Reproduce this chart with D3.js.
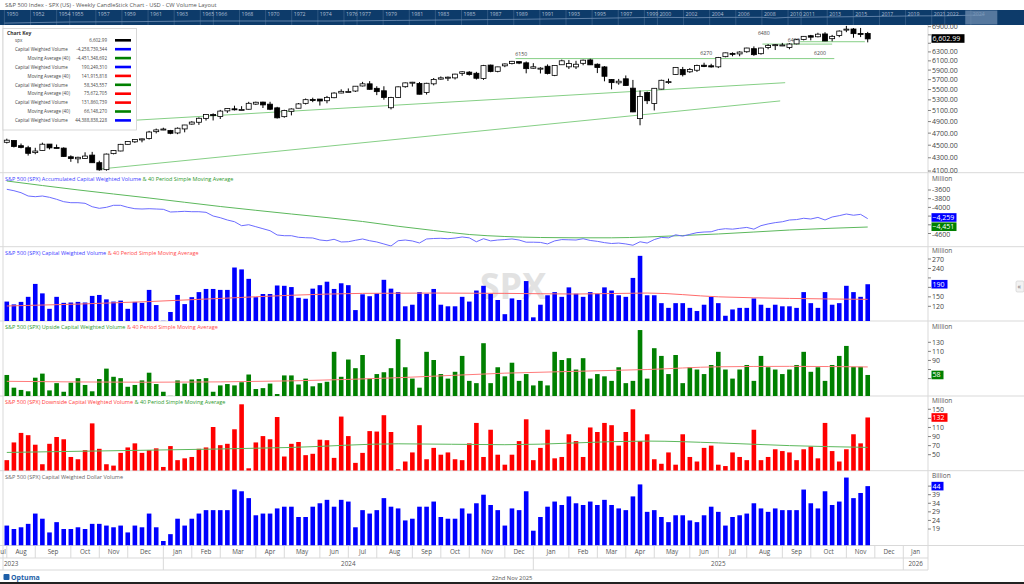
<!DOCTYPE html>
<html><head><meta charset="utf-8">
<script src="https://cdn.jsdelivr.net/npm/d3@7"></script>
<style>
body{margin:0;background:#fff;}
svg{display:block;font-family:"Open Sans","Noto Sans",sans-serif;}
</style></head><body>
<svg id="c" width="1024" height="584"></svg>
<script>
// ---------------- DATA ----------------
const firstWeek = new Date(2023, 6, 28);   // week ending Fri 28 Jul 2023
const axisEnd = new Date(2026, 0, 10);

const open = [4547,4578,4492,4459,4381,4415,4518,4464,4453,4316,4284,4289,4342,4225,4120,4365,4407,4514,4555,4586,4610,4725,4758,
4745,4703,4772,4856,4888,4957,5026,4989,5093,5131,5111,5123,5219,5257,5218,5149,4988,5085,5142,5233,5306,5315,5283,5341,5432,5459,5471,5572,5615,5525,5476,5151,5344,5557,5637,5623,5442,5615,5711,5737,5737,5831,5857,5833,5723,6008,5874,5992,6040,6083,6057,5940,
5920,5983,5789,6015,5970,5969,6046,6121,6026,5968,5705,5635,5718,5528,4953,5441,5232,5509,5656,5808,5911,5864,5897,6005,5993,5970,6193,6267,6255,6304,6374,6260,6400,6445,6457,6401,6485,6588,6679,6654,6722,6608,6686,6820,6843,6735,6735];
const high = [4607,4585,4527,4490,4458,4541,4519,4511,4466,4338,4317,4386,4393,4255,4366,4418,4521,4561,4597,4609,4739,4778,4793,
4755,4798,4842,4907,4975,5030,5048,5111,5140,5189,5180,5262,5265,5264,5263,5168,5114,5139,5239,5325,5341,5315,5375,5447,5505,5523,5570,5655,5670,5566,5566,5358,5564,5643,5655,5651,5636,5734,5767,5765,5823,5879,5878,5863,6012,6018,5973,6044,6099,6086,6086,6050,
5961,6022,5993,6128,6120,6101,6127,6147,6044,5986,5712,5715,5787,5695,5481,5459,5528,5700,5721,5959,5968,5944,6017,6059,6036,6187,6284,6290,6315,6395,6427,6395,6481,6482,6508,6503,6601,6672,6699,6750,6765,6699,6808,6920,6866,6869,6772];
const low = [4528,4463,4449,4335,4356,4415,4432,4449,4313,4238,4216,4283,4223,4104,4104,4354,4402,4511,4537,4547,4593,4696,4751,
4682,4682,4714,4845,4842,4918,4920,4946,5057,5100,5104,5117,5203,5146,5107,4954,4969,5011,5142,5212,5256,5192,5234,5331,5427,5445,5453,5563,5497,5391,5303,5120,5335,5536,5560,5406,5402,5584,5698,5674,5704,5780,5785,5703,5696,5854,5853,5963,6022,6028,5832,5930,
5829,5809,5773,6010,5924,5923,6004,6009,5837,5666,5505,5597,5572,5069,4835,5220,5101,5504,5615,5803,5767,5840,5862,5964,5953,5943,6178,6201,6202,6281,6212,6239,6360,6343,6434,6360,6475,6567,6569,6640,6550,6545,6644,6765,6631,6646,6521];
const close = [4582,4478,4464,4370,4406,4516,4457,4450,4320,4288,4308,4327,4224,4117,4358,4415,4514,4559,4595,4604,4719,4755,4770,
4697,4784,4840,4891,4959,5027,5006,5089,5137,5124,5117,5234,5254,5204,5123,4967,5100,5128,5223,5303,5305,5278,5347,5431,5465,5460,5567,5615,5505,5459,5346,5344,5554,5634,5648,5408,5626,5703,5738,5751,5815,5864,5808,5729,5996,5870,5969,6032,6090,6051,5931,5971,
5942,5827,5997,6101,6041,6026,6115,6013,5955,5770,5639,5668,5581,5074,5363,5283,5525,5687,5660,5958,5803,5912,6000,5977,5968,6173,6279,6260,6297,6389,6238,6389,6450,6467,6460,6482,6584,6664,6644,6716,6553,6664,6792,6840,6729,6734,6603];

// Accumulated capital weighted volume (millions)
const accVol = [-3584,-3616,-3662,-3738,-3754,-3738,-3768,-3814,-3869,-3892,-3892,-3906,-3984,-4021,-3998,-3952,-3952,-3998,-4030,-4037,-4030,-4037,-4044,-4106,-4099,-4090,-4099,-4099,-4113,-4198,-4237,-4290,-4329,-4421,-4398,-4444,-4490,-4536,-4634,-4651,-4651,-4687,-4697,-4703,-4749,-4766,-4733,-4795,-4789,-4756,-4726,-4766,-4795,-4841,-4887,-4766,
-4750,-4772,-4818,-4726,-4715,-4710,-4720,-4705,-4680,-4700,
-4790,-4720,-4770,-4750,-4740,-4725,-4750,-4800,-4800,-4805,
-4840,-4770,-4740,-4745,-4750,-4720,-4760,-4780,-4810,-4830,
-4820,-4840,-4870,-4790,-4820,-4740,-4690,-4700,-4630,-4660,
-4620,-4580,-4566,-4560,-4510,-4490,-4500,-4480,-4460,-4500,
-4420,-4380,-4350,-4330,-4290,-4280,-4250,-4267,-4230,-4290,
-4221,-4190,-4152,-4180,-4160,-4259];
const accMaIdx = [0,10,20,30,40,50,55,60,65,70,75,80,85,90,95,100,105,110,115,121];
const accMa = [-3393,-3598,-3784,-3979,-4152,-4324,-4434,-4531,-4623,-4669,-4692,-4699,-4699,-4680,-4646,-4611,-4566,-4520,-4485,-4451];

// Capital weighted volume (millions)
const cwVol = [135,126,134,150,191,161,112,150,131,132,134,132,153,156,142,135,138,112,134,131,172,124,74,102,156,127,149,165,175,175,172,172,243,237,207,149,159,159,186,185,181,147,144,176,187,198,175,193,187,108,158,152,161,204,176,165,
120,125,165,160,175,125,120,120,150,135,170,185,160,140,95,145,140,200,85,125,155,165,150,180,160,150,
165,160,180,170,155,150,210,280,155,155,130,115,130,130,115,105,125,150,130,90,110,115,115,145,125,115,125,120,120,115,165,130,115,165,125,130,185,165,150,190];
const cwMaIdx = [0,10,20,30,40,50,60,70,80,90,100,110,121];
const cwMa = [121,127,135,145,155,161,162,161,159,162,150,145,142];

// Upside capital weighted volume (millions)
const upVol = [58,30,25,22,52,61,24,40,21,41,51,36,22,49,72,54,51,32,36,46,63,38,21,12,46,39,48,49,51,21,35,38,35,42,59,27,29,39,16,57,57,37,50,33,40,43,109,54,92,73,102,50,60,64,73,137,
75,50,30,109,91,60,50,65,100,45,40,128,40,75,55,85,45,60,35,45,35,109,91,95,70,95,
50,60,55,45,75,40,45,157,50,117,100,60,102,40,75,70,60,80,109,70,50,70,80,45,100,75,70,60,70,80,109,65,75,45,80,100,122,76,76,58];
const upMaIdx = [0,20,40,55,70,90,100,110,121];
const upMa = [44,42,45,52,62,70,76,77,75.7];

// Downside capital weighted volume (millions)
const downVol = [38,77,98,93,72,29,74,89,84,45,40,60,119,63,29,26,54,66,75,54,60,64,23,69,38,42,45,63,66,111,71,74,106,161,20,77,91,84,133,46,74,78,49,52,83,82,43,134,91,32,54,102,101,137,100,18,
35,55,115,40,65,50,55,40,38,75,120,45,105,50,28,50,80,128,38,65,105,42,45,95,80,45,
110,100,120,115,70,100,150,80,95,40,30,55,28,95,45,35,65,70,28,25,55,45,38,105,38,45,62,58,55,38,62,68,42,120,58,35,62,95,75,132];
const downMaIdx = [0,20,40,55,70,90,100,110,121];
const downMa = [55,60,66,74,72,80,76,70,66.1];

// Capital weighted dollar volume (billions)
const dollarVol = [21,19,20,22,28,25,17,23,19,19,20,19,22,22,21,20,21,17,21,20,28,20,12,16,25,21,25,28,30,30,30,30,42,41,37,27,28,28,31,32,32,26,26,32,34,36,32,36,35,20,30,28,30,37,32,31,
24,25,32,32,35,26,25,25,31,28,34,39,33,30,21,31,30,41,18,26,32,35,33,38,34,33,
35,33,36,33,31,30,38,45,29,30,26,23,27,27,24,23,27,32,29,21,26,27,28,34,31,29,31,30,30,30,42,34,31,41,33,35,49,37,40,44];

// Drawn trend lines (bar index, price)
const trendIdx = [[-1, 109.4], [13.1, 108.7]];
const trendPrice = [[4788, 5638], [4129, 5279]];
const levelIdx = [[71.5, 116.3], [106.2, 116.0], [111.5, 120.6]];
const levelPrice = [6150, 6480, 6536];
const levelLabels = ["6150", "6270", "6200", "6480", "6400"];
const levelLabelIdx = [72.3, 98.3, 114.3, 106.4, 110.6];
const levelLabelPrice = [6215, 6240, 6240, 6700, 6540];

// Axis ticks
const priceTicks = [4100,4300,4500,4700,4900,5100,5300,5500,5700,5900,6100,6300,6500,6700,6900];
const accTicks = [-3600,-3800,-4000,-4200,-4400,-4600];
const cwTicks = [120,150,180,210,240,270];
const upTicks = [50,70,90,110,130];
const downTicks = [50,70,90,110,130,150];
const dollarTicks = [19,24,29,34,39,44];

// Chart key
const keyNames = ["spx","Capital Weighted Volume","Moving Average (40)","Capital Weighted Volume","Moving Average (40)","Capital Weighted Volume","Moving Average (40)","Capital Weighted Volume","Moving Average (40)","Capital Weighted Volume"];
const keyValues = ["6,602.99","-4,258,739,344","-4,451,348,692","190,249,310","141,915,818","58,343,557","75,672,705","131,860,739","66,148,270","44,388,838,228"];
const keyColors = ["#000","#0000ff","#008000","#0000ff","#ff0000","#008000","#ff0000","#ff0000","#008000","#0000ff"];

// Navigator (history)
const navYears = [1950,1952,1954,1955,1957,1959,1961,1963,1965,1966,1968,1970,1972,1974,1976,1977,1979,1981,1983,1985,1987,1989,1991,1993,1995,1997,1999,2000,2002,2004,2006,2008,2010,2011,2013,2015,2017,2019,2021,2022,2024];
const navHistYears = [1950,1955,1960,1965,1970,1975,1980,1985,1990,1995,2000,2003,2005,2008,2009,2010,2015,2020,2022,2024,2025];
const navHistClose = [20,45,58,92,92,90,136,211,330,616,1320,1000,1248,1300,800,1258,2044,3756,3840,5881,6600];

// ---------------- DRAW ----------------
const svg = d3.select("#c");
const W = 1024, AX = 928;
const nBars = close.length;
const weeks = d3.timeFriday.range(d3.timeDay.offset(firstWeek, -1), axisEnd);
const x = d3.scaleLinear().domain([0, 1]).range([6.8, 6.8 + 7.115]);

const P = {
  price: {top: 25, bot: 172.7},
  acc: {top: 172.7, bot: 246.7},
  cw: {top: 246.7, bot: 321},
  up: {top: 321, bot: 396},
  down: {top: 396, bot: 470.7},
  dol: {top: 470.7, bot: 545.5}
};
const yPrice = d3.scaleLog().domain([4100, 6900]).range([171, 26.7]);
const yAcc = d3.scaleLinear().domain([-3600, -4600]).range([190, 233.5]);
const yCw = d3.scaleLinear().domain([120, 270]).range([306.3, 259]);
const yUp = d3.scaleLinear().domain([50, 130]).range([378.6, 342.3]);
const yDown = d3.scaleLinear().domain([50, 150]).range([454.7, 409.3]);
const yDol = d3.scaleLinear().domain([19, 39]).range([529, 494.7]);

const defs = svg.append("defs");
Object.entries(P).forEach(([k, p]) => {
  defs.append("clipPath").attr("id", "clip-" + k).append("rect")
    .attr("x", 3).attr("y", p.top).attr("width", AX - 3).attr("height", p.bot - p.top);
});

// title
svg.append("text").attr("x", 5).attr("y", 6.5).attr("font-size", 5.8).attr("fill", "#555")
  .text("S&P 500 Index - SPX (US) - Weekly CandleStick Chart - USD - CW Volume Layout");

// navigator
const nav = svg.append("g");
nav.append("rect").attr("x", 0).attr("y", 10).attr("width", W).attr("height", 15).attr("fill", "#0d3b6a");
const xNav = d3.scaleTime().domain([new Date(1950, 0, 1), new Date(2026, 0, 1)]).range([4.4, 997]);
nav.selectAll("line.ny").data(navYears).join("line")
  .attr("x1", d => xNav(new Date(d, 0, 1))).attr("x2", d => xNav(new Date(d, 0, 1)))
  .attr("y1", 10).attr("y2", 25).attr("stroke", "#4a6d93").attr("stroke-width", 0.6);
nav.selectAll("text.ny").data(navYears).join("text")
  .attr("x", d => xNav(new Date(d, 0, 1)) + 2).attr("y", 16.3)
  .attr("font-size", 5.2).attr("fill", "#aebfd3").text(d => d);
const yNav = d3.scaleLog().domain([15, 7000]).range([23.5, 15]);
nav.append("path").datum(navHistYears.map((yr, i) => [yr, navHistClose[i]]))
  .attr("fill", "none").attr("stroke", "#7f9cc0").attr("stroke-width", 0.7)
  .attr("d", d3.line().x(d => xNav(new Date(d[0], 0, 1))).y(d => yNav(d[1])));
nav.append("rect").attr("x", xNav(firstWeek)).attr("y", 10.5)
  .attr("width", xNav(axisEnd) - xNav(firstWeek)).attr("height", 14)
  .attr("fill", "#6f8db0").attr("opacity", 0.75);

// panel frame lines
const frame = svg.append("g").attr("stroke", "#d9d9d9").attr("stroke-width", 1);
[P.acc.top, P.cw.top, P.up.top, P.down.top, P.dol.top].forEach(yv => {
  frame.append("line").attr("x1", 0).attr("x2", W).attr("y1", yv).attr("y2", yv);
});
frame.append("line").attr("x1", 0).attr("x2", W).attr("y1", 545.5).attr("y2", 545.5);
frame.append("line").attr("x1", 3).attr("x2", 3).attr("y1", 25).attr("y2", 570);
frame.append("line").attr("x1", AX).attr("x2", AX).attr("y1", 25).attr("y2", 570);

// ---- price panel
const gP = svg.append("g").attr("clip-path", "url(#clip-price)");
trendIdx.forEach((ti, k) => {
  gP.append("line").attr("x1", x(ti[0])).attr("x2", x(ti[1]))
    .attr("y1", yPrice(trendPrice[k][0])).attr("y2", yPrice(trendPrice[k][1]))
    .attr("stroke", "#86cf86").attr("stroke-width", 1);
});
levelIdx.forEach((li, k) => {
  gP.append("line").attr("x1", x(li[0])).attr("x2", x(li[1]))
    .attr("y1", yPrice(levelPrice[k])).attr("y2", yPrice(levelPrice[k]))
    .attr("stroke", "#86cf86").attr("stroke-width", 1);
});
levelLabels.forEach((t, k) => {
  gP.append("text").attr("x", x(levelLabelIdx[k])).attr("y", yPrice(levelLabelPrice[k]))
    .attr("font-size", 5.2).attr("fill", "#444").attr("text-anchor", "middle").text(t);
});
const idx = d3.range(nBars);
gP.selectAll("line.wick").data(idx).join("line")
  .attr("x1", i => x(i)).attr("x2", i => x(i))
  .attr("y1", i => yPrice(high[i])).attr("y2", i => yPrice(low[i]))
  .attr("stroke", "#000").attr("stroke-width", 1);
gP.selectAll("rect.body").data(idx).join("rect")
  .attr("x", i => x(i) - 2.5).attr("width", 5)
  .attr("y", i => yPrice(Math.max(open[i], close[i])))
  .attr("height", i => Math.max(1, Math.abs(yPrice(open[i]) - yPrice(close[i]))))
  .attr("fill", i => close[i] >= open[i] ? "#fff" : "#000")
  .attr("stroke", "#000").attr("stroke-width", 0.8);

// ---- generic bar panel helper
function barPanel(key, data, y, color) {
  const g = svg.append("g").attr("clip-path", `url(#clip-${key})`);
  g.selectAll("rect").data(idx).join("rect")
    .attr("x", i => x(i) - 2.3).attr("width", 4.6)
    .attr("y", i => y(data[i])).attr("height", i => Math.max(0, P[key].bot - y(data[i])))
    .attr("fill", color);
  return g;
}
function maLine(g, ids, vals, y, color) {
  g.append("path").datum(ids.map((i, k) => [i, vals[k]]))
    .attr("fill", "none").attr("stroke", color).attr("stroke-width", 1)
    .attr("d", d3.line().x(d => x(d[0])).y(d => y(d[1])).curve(d3.curveMonotoneX));
}

// ---- panel 2 accumulated
const gA = svg.append("g").attr("clip-path", "url(#clip-acc)");
maLine(gA, accMaIdx, accMa, yAcc, "#5cb85c");
gA.append("path").datum(idx).attr("fill", "none").attr("stroke", "#6b6bff").attr("stroke-width", 1)
  .attr("d", d3.line().x(i => x(i)).y(i => yAcc(accVol[i])));

// ---- panel 3 CW volume (watermark first)
svg.append("text").attr("x", 513).attr("y", 299).attr("text-anchor", "middle")
  .attr("font-size", 36).attr("font-weight", "bold").attr("fill", "#e2e2e2").text("SPX");
const g3 = barPanel("cw", cwVol, yCw, "#0000ff");
maLine(g3, cwMaIdx, cwMa, yCw, "#ff6b6b");
const g4 = barPanel("up", upVol, yUp, "#008000");
maLine(g4, upMaIdx, upMa, yUp, "#ff7b7b");
const g5 = barPanel("down", downVol, yDown, "#ff0000");
maLine(g5, downMaIdx, downMa, yDown, "#5cb85c");
barPanel("dol", dollarVol, yDol, "#0000ff");

// panel titles
function title(yv, parts) {
  const t = svg.append("text").attr("x", 5).attr("y", yv).attr("font-size", 5.5);
  parts.forEach(p => t.append("tspan").attr("fill", p[1]).text(p[0]));
}
title(180.5, [["S&P 500 (SPX)  Accumulated Capital Weighted Volume ", "#3b3bff"], ["& 40 Period Simple Moving Average", "#2e9a2e"]]);
title(254.8, [["S&P 500 (SPX)  Capital Weighted Volume ", "#3b3bff"], ["& 40 Period Simple Moving Average", "#ff4d4d"]]);
title(329, [["S&P 500 (SPX)  Upside Capital Weighted Volume ", "#2e9a2e"], ["& 40 Period Simple Moving Average", "#ff4d4d"]]);
title(403.5, [["S&P 500 (SPX)  Downside Capital Weighted Volume ", "#ff3b3b"], ["& 40 Period Simple Moving Average", "#2e9a2e"]]);
title(478.5, [["S&P 500 (SPX)  Capital Weighted Dollar Volume", "#666"]]);

// ---- right axes (value boxes computed first so covered ticks are skipped)
const boxes = [
  {y: yPrice(close[nBars - 1]) - 0.4, t: d3.format(",.2f")(6602.99), c: "#000", w: 33},
  {y: yAcc(accVol[nBars - 1]) - 1.2, t: d3.format(",")(accVol[nBars - 1]), c: "#0000ff", w: 25},
  {y: yAcc(accMa[accMa.length - 1]) - 0.3, t: d3.format(",")(Math.round(accMa[accMa.length - 1])), c: "#008000", w: 25},
  {y: yCw(cwVol[nBars - 1]), t: String(cwVol[nBars - 1]), c: "#0000ff", w: 16},
  {y: yUp(upVol[nBars - 1]), t: String(upVol[nBars - 1]), c: "#008000", w: 12},
  {y: yDown(downVol[nBars - 1]), t: String(downVol[nBars - 1]), c: "#ff0000", w: 16},
  {y: yDol(dollarVol[nBars - 1]), t: String(dollarVol[nBars - 1]), c: "#0000ff", w: 12}
];
const ax = svg.append("g").attr("font-size", 7).attr("fill", "#444");
function ticks(list, y, fmt) {
  list.forEach(v => {
    const yy = y(v);
    ax.append("line").attr("x1", AX).attr("x2", AX + 3).attr("y1", yy).attr("y2", yy).attr("stroke", "#666").attr("stroke-width", 0.8);
    const near = boxes.filter(b => Math.abs(b.y - yy) < 8);
    if (near.some(b => Math.abs(b.y - yy) < 6.5)) return;
    const shift = near.length ? (yy > near[0].y ? 1.3 : -1.3) : 0;
    ax.append("text").attr("x", AX + 4).attr("y", yy + 2.4 + shift).text(fmt(v));
  });
}
ticks(priceTicks, yPrice, v => d3.format(".2f")(v));
ticks(accTicks, yAcc, v => String(v));
ticks(cwTicks.filter(v => v < 270), yCw, v => String(v));
ticks(upTicks, yUp, v => String(v));
ticks(downTicks, yDown, v => String(v));
ticks(dollarTicks, yDol, v => String(v));
ax.append("line").attr("x1", AX).attr("x2", AX + 3).attr("y1", yCw(270)).attr("y2", yCw(270)).attr("stroke", "#666").attr("stroke-width", 0.8);
ax.append("text").attr("x", AX + 4).attr("y", yCw(270) + 3).text("270");
[[181, "Million"], [253, "Million"], [328.5, "Million"], [403, "Million"], [478, "Billion"]].forEach(d => {
  ax.append("text").attr("x", AX + 4).attr("y", d[0]).attr("font-size", 6.5).attr("fill", "#555").text(d[1]);
});
boxes.forEach(b => {
  svg.append("rect").attr("x", AX + 3.5).attr("y", b.y - 4.3).attr("width", b.w).attr("height", 8.6).attr("fill", b.c);
  svg.append("text").attr("x", AX + 4.5).attr("y", b.y + 2.5).attr("font-size", 7).attr("fill", "#fff").text(b.t);
});

// ---- chart key
const key = svg.append("g");
key.append("rect").attr("x", 3).attr("y", 28.5).attr("width", 133.5).attr("height", 101.5)
  .attr("fill", "#fff").attr("stroke", "#cfcfcf").attr("stroke-width", 0.8);
key.append("text").attr("x", 7).attr("y", 35).attr("font-size", 5).attr("font-weight", "bold").attr("fill", "#333").text("Chart Key");
keyNames.forEach((n, k) => {
  const yy = 42 + k * 8.9;
  const isMa = n.startsWith("Moving");
  key.append("text").attr("x", isMa ? 70 : 15).attr("y", yy).attr("text-anchor", isMa ? "end" : "start")
    .attr("font-size", 4.5).attr("fill", "#444").text(n);
  key.append("text").attr("x", 107).attr("y", yy).attr("text-anchor", "end")
    .attr("font-size", 4.5).attr("fill", "#444").text(keyValues[k]);
  key.append("rect").attr("x", 115).attr("y", yy - 3).attr("width", 16).attr("height", 2.6).attr("fill", keyColors[k]);
});

// ---- bottom time axis
const bax = svg.append("g");
bax.append("line").attr("x1", 0).attr("x2", AX).attr("y1", 558).attr("y2", 558).attr("stroke", "#d9d9d9");
bax.append("line").attr("x1", 0).attr("x2", AX).attr("y1", 570).attr("y2", 570).attr("stroke", "#d9d9d9");
const monthSeps = [], yearSeps = [];
weeks.forEach((d, k) => {
  if (k > 0 && d.getMonth() !== weeks[k - 1].getMonth()) {
    monthSeps.push({x: x(k - 1), d: d});
    if (d.getFullYear() !== weeks[k - 1].getFullYear()) yearSeps.push({x: x(k - 1), d: d});
  }
});
monthSeps.forEach((m, k) => {
  bax.append("line").attr("x1", m.x).attr("x2", m.x).attr("y1", 545.5).attr("y2", 558).attr("stroke", "#d9d9d9");
  const next = k + 1 < monthSeps.length ? monthSeps[k + 1].x : AX;
  bax.append("text").attr("x", (m.x + next) / 2).attr("y", 554).attr("text-anchor", "middle")
    .attr("font-size", 6.3).attr("fill", "#555").text(d3.timeFormat("%b")(m.d));
});
bax.append("text").attr("x", monthSeps[0].x - 1).attr("y", 554).attr("text-anchor", "end")
  .attr("font-size", 6.3).attr("fill", "#555").text(d3.timeFormat("%b")(weeks[0]).slice(1));
yearSeps.forEach((m, k) => {
  bax.append("line").attr("x1", m.x).attr("x2", m.x).attr("y1", 558).attr("y2", 570).attr("stroke", "#d9d9d9");
  const next = k + 1 < yearSeps.length ? yearSeps[k + 1].x : AX;
  bax.append("text").attr("x", (m.x + next) / 2).attr("y", 566).attr("text-anchor", "middle")
    .attr("font-size", 6.3).attr("fill", "#555").text(m.d.getFullYear());
});
bax.append("text").attr("x", 4).attr("y", 566).attr("font-size", 6.3).attr("fill", "#555").text(weeks[0].getFullYear());

// footer
const ft = svg.append("g");
ft.append("rect").attr("x", 3.5).attr("y", 574).attr("width", 6).attr("height", 6).attr("rx", 1).attr("fill", "#1d5fa8");
ft.append("text").attr("x", 11).attr("y", 580).attr("font-size", 7).attr("font-weight", "bold").attr("fill", "#1d5fa8").text("Optuma");
ft.append("text").attr("x", 512).attr("y", 579.5).attr("text-anchor", "middle").attr("font-size", 5.8).attr("fill", "#555").text("22nd Nov 2025");
ft.append("rect").attr("x", 0).attr("y", 582).attr("width", W).attr("height", 2).attr("fill", "#222");
// side tab
svg.append("rect").attr("x", 1016).attr("y", 281).attr("width", 8).attr("height", 11).attr("rx", 1.5).attr("fill", "#f2f2f2").attr("stroke", "#ccc").attr("stroke-width", 0.6);
svg.append("text").attr("x", 1017.5).attr("y", 289).attr("font-size", 7).attr("fill", "#666").text("«");
</script>
</body></html>
